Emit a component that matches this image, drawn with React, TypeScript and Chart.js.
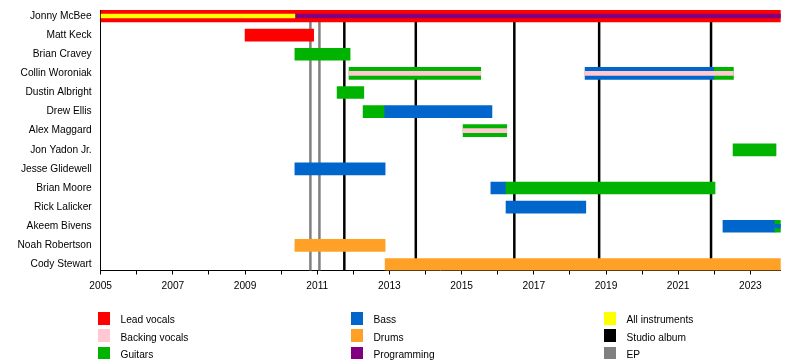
import React, { useEffect, useRef } from "react";
import { Chart, registerables } from "chart.js";
Chart.register(...registerables);

const members = [
  "Jonny McBee",
  "Matt Keck",
  "Brian Cravey",
  "Collin Woroniak",
  "Dustin Albright",
  "Drew Ellis",
  "Alex Maggard",
  "Jon Yadon Jr.",
  "Jesse Glidewell",
  "Brian Moore",
  "Rick Lalicker",
  "Akeem Bivens",
  "Noah Robertson",
  "Cody Stewart",
];

const START = 2005;
const END = 2023.84;

// [rowIndex, start, end]
const leadVocals = [
  [0, 2005, END],
  [1, 2009.0, 2010.9],
];
const allInstruments = [[0, 2005, 2010.38]];
const programming = [[0, 2010.38, END]];
const guitars = [
  [2, 2010.38, 2011.91],
  [3, 2011.88, 2015.53],
  [3, 2022.0, 2022.53],
  [4, 2011.55, 2012.29],
  [5, 2012.27, 2012.85],
  [6, 2015.04, 2016.25],
  [7, 2022.52, 2023.71],
  [9, 2016.23, 2022.02],
  [11, 2023.68, END],
];
const bass = [
  [3, 2018.42, 2022.0],
  [5, 2012.85, 2015.84],
  [8, 2010.38, 2012.88],
  [9, 2015.81, 2016.23],
  [10, 2016.23, 2018.44],
  [11, 2022.24, 2023.68],
];
const bassStripe = [[11, 2023.68, END]];
const backingVocals = [
  [3, 2011.88, 2015.53],
  [3, 2018.42, 2022.53],
  [6, 2015.04, 2016.25],
];
const drums = [
  [12, 2010.38, 2012.88],
  [13, 2012.88, END],
];

const studioAlbums = [2011.75, 2013.73, 2016.46, 2018.81, 2021.91];
const eps = [2010.81, 2011.06];

const tickYears = [2005, 2006, 2007, 2008, 2009, 2010, 2011, 2012, 2013, 2014, 2015, 2016, 2017, 2018, 2019, 2020, 2021, 2022, 2023];
const labeledYears = [2005, 2007, 2009, 2011, 2013, 2015, 2017, 2019, 2021, 2023];

const legendColumns = [
  [
    { label: "Lead vocals", color: "#ff0000" },
    { label: "Backing vocals", color: "#ffc8d2" },
    { label: "Guitars", color: "#00b300" },
  ],
  [
    { label: "Bass", color: "#0066cc" },
    { label: "Drums", color: "#ffa126" },
    { label: "Programming", color: "#800080" },
  ],
  [
    { label: "All instruments", color: "#ffff00" },
    { label: "Studio album", color: "#000000" },
    { label: "EP", color: "#808080" },
  ],
];

const COLORS = {
  red: "#ff0000",
  yellow: "#ffff00",
  purple: "#800080",
  green: "#00b300",
  blue: "#0066cc",
  pink: "#ffc8d2",
  orange: "#ffa126",
};

const FONT = "'Liberation Sans', Arial, sans-serif";
const FS = 10.2;

function toData(rows: number[][]) {
  return rows.map(([r, s, e]) => ({ x: [s, e], y: r }));
}

function ds(rows: number[][], color: string, thickness: number, order: number) {
  return {
    data: toData(rows),
    backgroundColor: color,
    barThickness: thickness,
    grouped: false,
    borderWidth: 0,
    borderSkipped: false,
    order,
  } as any;
}

const linesPlugin = {
  id: "releaseLines",
  beforeDatasetsDraw(chart: any) {
    const { ctx, chartArea, scales } = chart;
    const x = scales.x;
    ctx.save();
    const drawLine = (v: number, color: string) => {
      const px = x.getPixelForValue(v);
      ctx.strokeStyle = color;
      ctx.lineWidth = 2.5;
      ctx.beginPath();
      ctx.moveTo(px, chartArea.top);
      ctx.lineTo(px, chartArea.bottom);
      ctx.stroke();
    };
    eps.forEach((v) => drawLine(v, "#808080"));
    studioAlbums.forEach((v) => drawLine(v, "#000000"));
    ctx.restore();
  },
};

export default function App() {
  const ref = useRef<HTMLCanvasElement | null>(null);

  useEffect(() => {
    if (!ref.current) return;
    const chart = new Chart(ref.current, {
      type: "bar",
      data: {
        datasets: [
          ds(allInstruments, COLORS.yellow, 4, 0),
          ds(programming, COLORS.purple, 4, 0),
          ds(backingVocals, COLORS.pink, 4, 0),
          ds(bassStripe, COLORS.blue, 4, 0),
          ds(leadVocals, COLORS.red, 12, 1),
          ds(guitars, COLORS.green, 12, 1),
          ds(bass, COLORS.blue, 12, 1),
          ds(drums, COLORS.orange, 12, 1),
        ],
      },
      options: {
        indexAxis: "y",
        animation: false,
        responsive: false,
        maintainAspectRatio: false,
        layout: { padding: { left: 0, top: 10, right: 19.3, bottom: 59.5 } },
        plugins: { legend: { display: false }, tooltip: { enabled: false } },
        scales: {
          x: {
            type: "linear",
            position: "bottom",
            min: START,
            max: END,
            afterBuildTicks: (axis: any) => {
              axis.ticks = tickYears.map((v) => ({ value: v }));
            },
            afterFit: (axis: any) => {
              axis.height = 30;
              axis.paddingLeft = 0;
              axis.paddingRight = 0;
            },
            ticks: {
              autoSkip: false,
              maxRotation: 0,
              padding: 6,
              color: "#000",
              font: { family: FONT, size: FS },
              callback: (v: any) => (labeledYears.includes(v) ? String(v) : ""),
            },
            grid: {
              drawOnChartArea: false,
              drawTicks: true,
              tickLength: 4,
              color: "#000",
            },
            border: { display: true, color: "#000", width: 1 },
          },
          y: {
            type: "linear",
            reverse: true,
            offset: false,
            min: -0.314,
            max: 13.314,
            afterBuildTicks: (axis: any) => {
              axis.ticks = members.map((_, i) => ({ value: i }));
            },
            afterFit: (axis: any) => {
              axis.width = 100.7;
              axis.paddingTop = 0;
              axis.paddingBottom = 0;
            },
            ticks: {
              autoSkip: false,
              padding: 9,
              color: "#000",
              font: { family: FONT, size: FS },
              callback: (v: any) => members[v] ?? "",
            },
            grid: { display: false, drawTicks: false },
            border: { display: true, color: "#000", width: 1 },
          },
        },
      } as any,
      plugins: [linesPlugin],
    });
    return () => chart.destroy();
  }, []);

  const colX = [98, 351, 604];
  const rowY = [318.3, 335.6, 352.9];

  return (
    <div style={{ position: "fixed", left: 0, top: 0, width: 800, height: 360, background: "#fff" }}>
      <canvas ref={ref} width={800} height={360} style={{ position: "absolute", left: 0, top: 0 }} />
      {legendColumns.map((col, ci) =>
        col.map((item, ri) => (
          <div key={`${ci}-${ri}`}>
            <div
              style={{
                position: "absolute",
                left: colX[ci],
                top: rowY[ri] - 6.3,
                width: 12,
                height: 12.6,
                background: item.color,
              }}
            />
            <div
              style={{
                position: "absolute",
                left: colX[ci] + 22.5,
                top: rowY[ri] - 5,
                height: 14,
                lineHeight: "14px",
                fontFamily: FONT,
                fontSize: FS,
                color: "#000",
                whiteSpace: "nowrap",
              }}
            >
              {item.label}
            </div>
          </div>
        ))
      )}
    </div>
  );
}
